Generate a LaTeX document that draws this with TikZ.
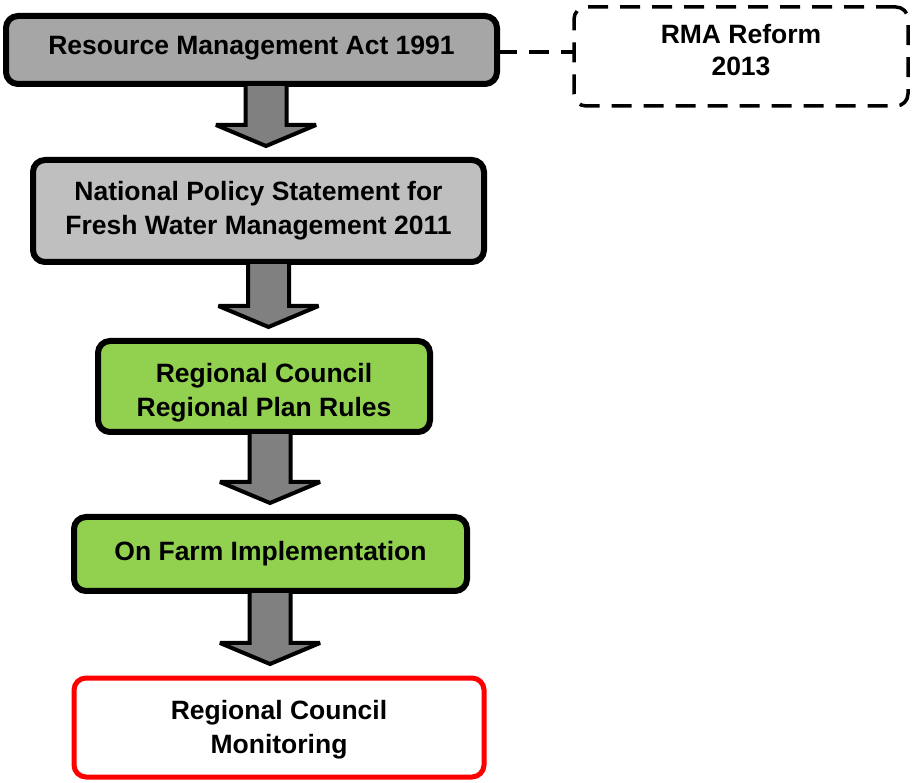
\documentclass[tikz,border=0pt]{standalone}
\usepackage{fontspec}
\setmainfont{Liberation Sans}
\usetikzlibrary{calc}
\definecolor{boxgrayA}{HTML}{A6A6A6}
\definecolor{boxgrayB}{HTML}{BFBFBF}
\definecolor{boxgreen}{HTML}{92D050}
\definecolor{arrowgray}{HTML}{808080}
\tikzset{
  box/.style={draw=black, line width=6pt, rounded corners=12pt, outer sep=0pt,
    inner sep=0pt, align=center, font=\fontsize{26.5}{34}\selectfont\bfseries},
  redbox/.style={box, draw=red, line width=5pt, fill=white},
  dashbox/.style={box, line width=3.5pt, dash pattern=on 20pt off 12pt, fill=white},
  dashlink/.style={draw=black, line width=3.5pt, dash pattern=on 20pt off 12pt},
  barrow/.style={draw=black, fill=arrowgray, line width=4pt, line join=miter, miter limit=3},
}
\newcommand\blockarrow[3]{%
  \draw[barrow] let \p1=(#1.south), \p2=(#2.north) in
    (#3-20.5,\y1) -- (#3+20.5,\y1) -- (#3+20.5,\y2+35pt) -- (#3+50,\y2+35pt)
    -- (#3,\y2+14pt) -- (#3-50,\y2+35pt) -- (#3-20.5,\y2+35pt) -- cycle;}
\newcommand\shifted[2]{\raisebox{#1}[\height][\depth]{\begin{tabular}{@{}c@{}}#2\end{tabular}}}
\begin{document}
\begin{tikzpicture}[x=1pt,y=-1pt]
\useasboundingbox (0,0) rectangle (914,783);
\node[box, fill=boxgrayA, minimum width=491pt, minimum height=68pt] (rma) at (251.5,50) {\shifted{2pt}{Resource Management Act 1991}};
\node[box, fill=boxgrayB, minimum width=451pt, minimum height=102pt] (nps) at (258.5,211) {National Policy Statement for\\Fresh Water Management 2011};
\node[box, fill=boxgreen, minimum width=332pt, minimum height=91pt] (rc) at (264,386.5) {\shifted{-6pt}{Regional Council\\Regional Plan Rules}};
\node[box, fill=boxgreen, minimum width=393pt, minimum height=74pt] (farm) at (270.5,554) {On Farm Implementation};
\node[redbox, minimum width=410pt, minimum height=99pt] (mon) at (279,727.5) {\shifted{-2.5pt}{Regional Council\\Monitoring}};
\node[dashbox, minimum width=334pt, minimum height=99pt] (ref) at (741,56.5) {\fontsize{26.5}{32}\selectfont\shifted{3pt}{RMA Reform\\2013}};
\draw[dashlink] (rma.east |- 0,52) -- (ref.west |- 0,52);
\blockarrow{rma}{nps}{266}
\blockarrow{nps}{rc}{268.5}
\blockarrow{rc}{farm}{270}
\blockarrow{farm}{mon}{270}
\end{tikzpicture}
\end{document}
